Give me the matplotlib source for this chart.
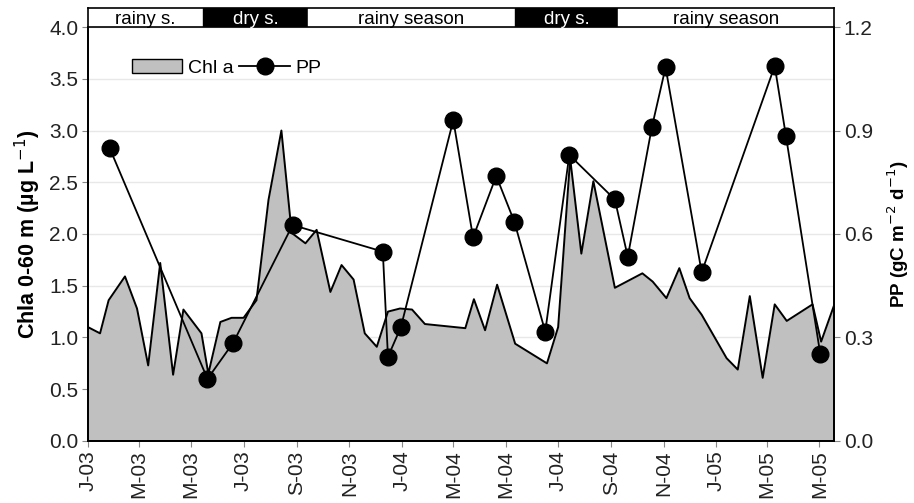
import matplotlib.pyplot as plt
import matplotlib.dates as mdates
from matplotlib.patches import Patch
from matplotlib.lines import Line2D
import numpy as np

plt.rcParams['font.family'] = ['Liberation Sans', 'DejaVu Sans']

# Chl a 0-60 m (ug/L)
chl_dates = ['2003-01-01', '2003-01-15', '2003-01-25', '2003-02-13', '2003-02-27',
             '2003-03-12', '2003-03-26', '2003-04-10', '2003-04-22', '2003-05-13',
             '2003-05-21', '2003-06-04', '2003-06-17', '2003-07-01', '2003-07-16',
             '2003-07-30', '2003-08-14', '2003-08-26', '2003-09-11', '2003-09-24',
             '2003-10-10', '2003-10-23', '2003-11-06', '2003-11-19', '2003-12-03',
             '2003-12-16', '2003-12-30', '2004-01-13', '2004-01-28', '2004-03-15',
             '2004-03-25', '2004-04-07', '2004-04-21', '2004-05-12', '2004-06-18',
             '2004-07-01', '2004-07-15', '2004-07-28', '2004-08-11', '2004-09-05',
             '2004-10-07', '2004-10-19', '2004-11-04', '2004-11-19', '2004-12-01',
             '2004-12-15', '2005-01-13', '2005-01-26', '2005-02-09', '2005-02-24',
             '2005-03-10', '2005-03-24', '2005-04-23', '2005-05-03', '2005-05-18']
chl = [1.10, 1.04, 1.36, 1.59, 1.28,
       0.73, 1.72, 0.64, 1.27, 1.04,
       0.65, 1.15, 1.19, 1.19, 1.36,
       2.33, 3.00, 2.01, 1.91, 2.04,
       1.44, 1.70, 1.56, 1.04, 0.91,
       1.25, 1.28, 1.27, 1.13, 1.09,
       1.37, 1.07, 1.51, 0.94, 0.75,
       1.10, 2.73, 1.81, 2.51, 1.48,
       1.62, 1.54, 1.38, 1.67, 1.38,
       1.22, 0.80, 0.69, 1.40, 0.61,
       1.32, 1.16, 1.32, 0.96, 1.31]

# Primary production (gC m-2 d-1)
pp_dates = ['2003-01-26', '2003-05-20', '2003-06-19', '2003-08-27', '2003-12-10',
            '2003-12-16', '2003-12-31', '2004-03-01', '2004-03-24', '2004-04-20',
            '2004-05-11', '2004-06-16', '2004-07-14', '2004-09-05', '2004-09-20',
            '2004-10-18', '2004-11-03', '2004-12-15', '2005-03-10', '2005-03-23',
            '2005-05-02']
pp = [0.85, 0.18, 0.285, 0.626, 0.549,
      0.244, 0.33, 0.93, 0.59, 0.768,
      0.636, 0.317, 0.829, 0.70, 0.534,
      0.909, 1.083, 0.489, 1.087, 0.885,
      0.252]

# seasons along the top
season_edges = ['2003-01-01', '2003-05-15', '2003-09-14', '2004-05-12', '2004-09-09', '2005-05-18']
season_labels = ['rainy s.', 'dry s.', 'rainy season', 'dry s.', 'rainy season']
season_dry = [False, True, False, True, False]

chl_x = mdates.datestr2num(chl_dates)
pp_x = mdates.datestr2num(pp_dates)
edges = mdates.datestr2num(season_edges)
xmin, xmax = edges[0], edges[-1]

fig = plt.figure(figsize=(9.14, 5.03), dpi=100)
ax = fig.add_axes([0.0963, 0.1233, 0.8162, 0.823])
band = fig.add_axes([0.0963, 0.9463, 0.8162, 0.0378])

ax.fill_between(chl_x, chl, 0, color='#c0c0c0', lw=0)
ax.plot(chl_x, chl, color='black', lw=1.4)
ax.set_xlim(xmin, xmax)
ax.set_ylim(0, 4)
ax.set_yticks(np.arange(0, 4.01, 0.5))
ax.yaxis.grid(True, color='#e8e8e8', lw=1)
ax.set_axisbelow(True)

ax2 = ax.twinx()
ax2.plot(pp_x, pp, color='black', lw=1.3, marker='o', markersize=12)
ax2.set_ylim(0, 1.2)
ax2.set_yticks([0, 0.3, 0.6, 0.9, 1.2])

ax.xaxis.set_major_locator(mdates.MonthLocator(bymonth=[1, 3, 5, 7, 9, 11]))
ax.xaxis.set_major_formatter(plt.FuncFormatter(
    lambda v, p: mdates.num2date(v).strftime('%b')[0] + '-' + mdates.num2date(v).strftime('%y')))
for lab in ax.get_xticklabels():
    lab.set_rotation(90)

for a in (ax, ax2):
    a.tick_params(labelsize=15, color='#888888', labelcolor='#222222', length=4, pad=3)
    a.spines['top'].set_visible(False)
    for s in ('left', 'right', 'bottom'):
        a.spines[s].set_linewidth(1.3)
ax.yaxis.set_major_formatter(plt.FormatStrFormatter('%.1f'))
ax2.yaxis.set_major_formatter(plt.FormatStrFormatter('%.1f'))

ax.set_ylabel('Chla 0-60 m (µg L$^{-1}$)', fontsize=15.5, fontweight='bold', labelpad=4)
ax2.set_ylabel('PP (gC m$^{-2}$ d$^{-1}$)', fontsize=13.5, fontweight='bold', labelpad=9)

handles = [Patch(facecolor='#c0c0c0', edgecolor='black', lw=1),
           Line2D([], [], color='black', lw=1.3, marker='o', markersize=12)]
ax2.legend(handles, ['Chl a', 'PP'], ncol=2, loc='upper left', bbox_to_anchor=(0.035, 0.965),
           frameon=False, fontsize=14, handlelength=2.6, handletextpad=0.3, columnspacing=0.3)

# season band
for i in range(len(season_labels)):
    fc = 'black' if season_dry[i] else 'white'
    tc = 'white' if season_dry[i] else 'black'
    band.axvspan(edges[i], edges[i + 1], color=fc)
    band.text((edges[i] + edges[i + 1]) / 2, 0.42, season_labels[i], ha='center', va='center',
              color=tc, fontsize=13.5)
band.set_xlim(xmin, xmax)
band.set_ylim(0, 1)
band.set_xticks([])
band.set_yticks([])
for s in band.spines.values():
    s.set_linewidth(1.2)

fig.savefig('out.png', dpi=100)
